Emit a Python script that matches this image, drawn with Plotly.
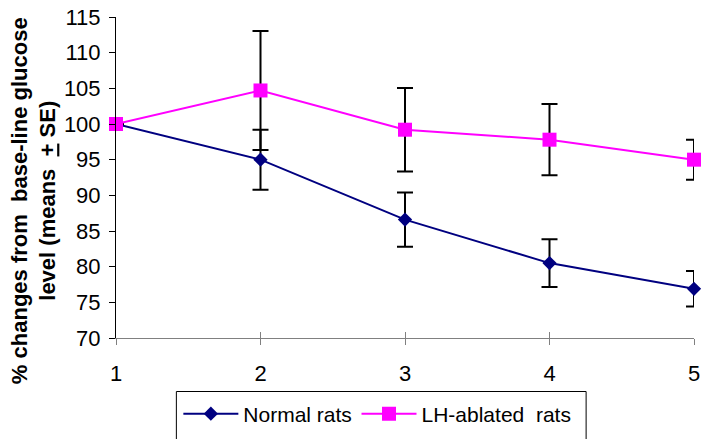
import plotly.graph_objects as go

x_vals = [1, 2, 3, 4, 5]
normal_mean = [100, 95.0, 86.6, 80.5, 76.9]
normal_se = [0, 4.2, 3.8, 3.35, 2.5]
lh_mean = [100, 104.7, 99.2, 97.8, 95.0]
lh_se = [0, 8.35, 5.85, 5.0, 2.8]
series_names = ["Normal rats", "LH-ablated&nbsp; rats"]
y_title = "% changes from&nbsp; base-line glucose<br>level (means&nbsp; <u>+</u> SE)"

font_family = "Liberation Sans, Arial, sans-serif"

# plot-area geometry in pixels (used to convert to paper coordinates)
L, R, T, B, W, H = 116, 5, 17, 98, 705, 439
PW, PH = W - L - R, H - T - B


def px(xp):
    return (xp - L) / PW


def py(yp):
    return (H - B - yp) / PH


fig = go.Figure()
fig.add_trace(go.Scatter(
    x=x_vals, y=normal_mean, name=series_names[0], mode="lines+markers",
    line=dict(color="#000080", width=2),
    marker=dict(symbol="diamond", size=11, color="#000080"),
    error_y=dict(type="data", array=normal_se, color="black", thickness=2, width=8),
    cliponaxis=False, legend="legend",
))
fig.add_trace(go.Scatter(
    x=x_vals, y=lh_mean, name=series_names[1], mode="lines+markers",
    line=dict(color="#FF00FF", width=2),
    marker=dict(symbol="square", size=14, color="#FF00FF"),
    error_y=dict(type="data", array=lh_se, color="black", thickness=2, width=8),
    cliponaxis=False, legend="legend2",
))

leg_common = dict(
    orientation="h", xanchor="left", yanchor="top", y=py(397),
    borderwidth=0, bgcolor="rgba(0,0,0,0)", font=dict(size=21), itemwidth=55,
)

fig.update_layout(
    width=W, height=H,
    margin=dict(l=L, r=R, t=T, b=B),
    paper_bgcolor="white", plot_bgcolor="white",
    font=dict(family=font_family, size=22, color="black"),
    showlegend=True,
    legend=dict(x=px(179), **leg_common),
    legend2=dict(x=px(359), **leg_common),
    xaxis=dict(
        range=[1, 5], tickmode="array", tickvals=x_vals, ticktext=[str(v) for v in x_vals],
        showgrid=False, zeroline=False, showline=True, linecolor="#808080", linewidth=1,
        ticks="outside", ticklen=6, tickcolor="#808080", tickwidth=1,
        ticklabelstandoff=10, ticklabeloverflow="allow",
    ),
    xaxis2=dict(
        range=[1, 5], overlaying="x", tickmode="array", tickvals=x_vals,
        showgrid=False, zeroline=False, showline=False, showticklabels=False,
        ticks="inside", ticklen=6, tickcolor="#808080", tickwidth=1,
    ),
    yaxis=dict(
        range=[70, 115], dtick=5, tick0=70,
        showgrid=False, zeroline=False, showline=True, linecolor="black", linewidth=1,
        ticks="outside", ticklen=6, tickcolor="black", tickwidth=1,
        ticklabelstandoff=4,
    ),
    shapes=[dict(
        type="rect", xref="paper", yref="paper",
        x0=px(177), x1=px(591), y0=py(395), y1=py(446),
        line=dict(color="black", width=1), fillcolor="rgba(0,0,0,0)", layer="below",
    )],
    annotations=[dict(
        text=y_title, textangle=-90, xref="paper", yref="paper",
        x=px(33), y=py(202), xanchor="center", yanchor="middle",
        showarrow=False, align="center",
        font=dict(family=font_family, size=22, color="black", weight="bold"),
    )],
)
# invisible trace to activate the overlay axis for cross-style ticks
fig.add_trace(go.Scatter(x=[1], y=[None], xaxis="x2", showlegend=False, hoverinfo="skip"))

fig.write_html("out.html")
